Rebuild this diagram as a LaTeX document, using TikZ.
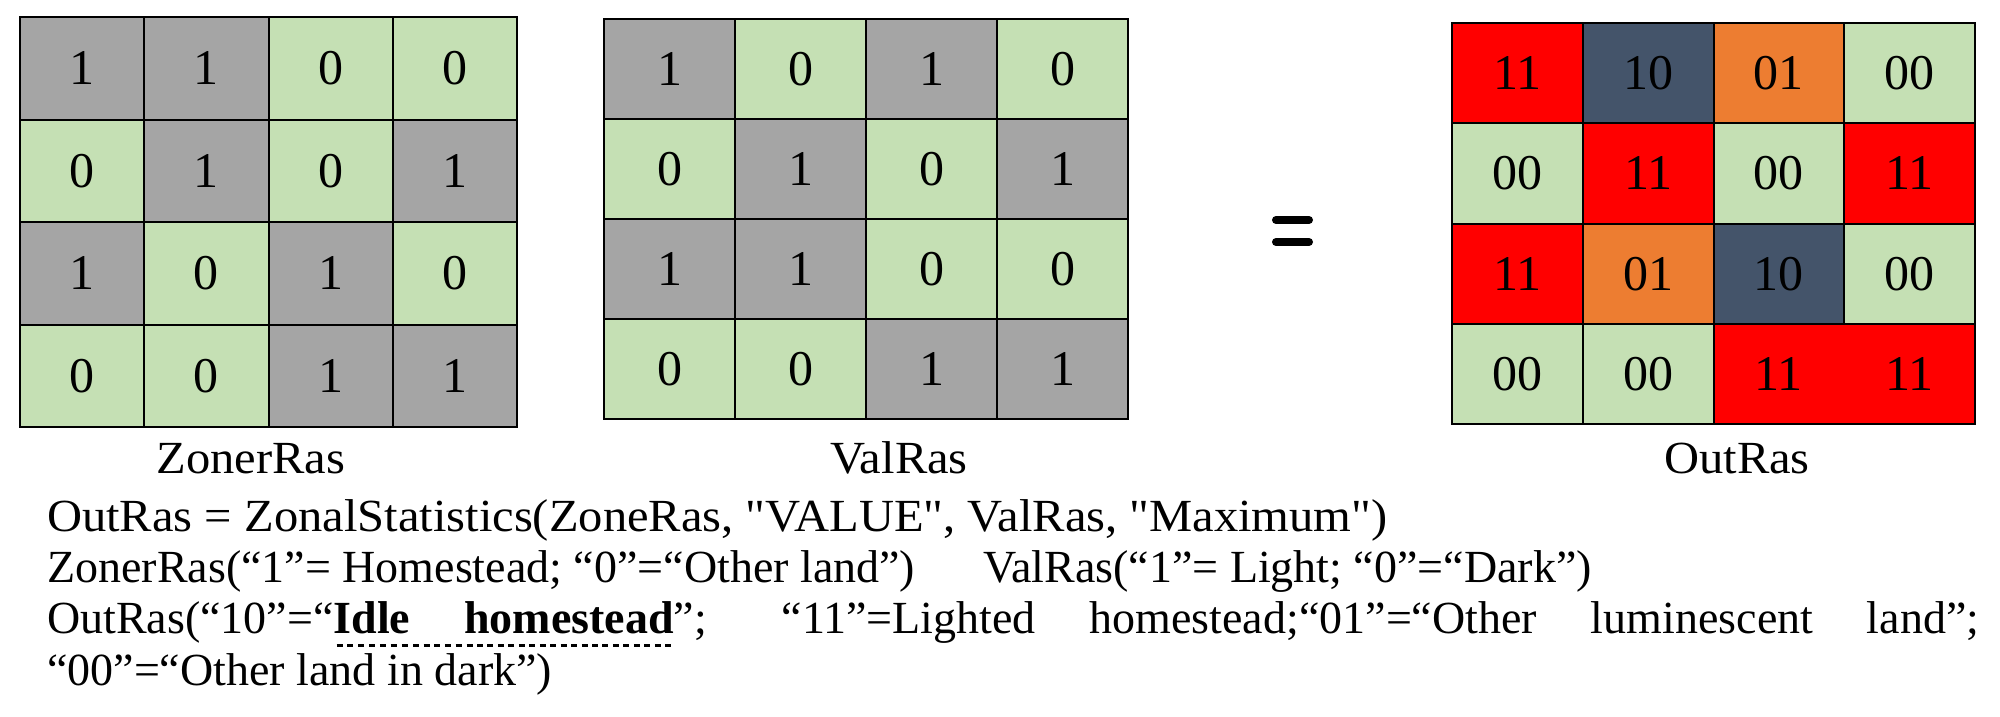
\documentclass[tikz,border=0pt]{standalone}
\usepackage{fontspec}
\setmainfont{Liberation Serif}[Ligatures=TeXOff]
\newfontfamily\widefont{Liberation Serif}[Ligatures=TeXOff, FakeStretch=1.055]
\definecolor{cgray}{HTML}{A5A5A5}
\definecolor{cgreen}{HTML}{C5E0B4}
\definecolor{cred}{HTML}{FF0000}
\definecolor{cblue}{HTML}{44546A}
\definecolor{corange}{HTML}{ED7D31}
\colorlet{v1}{cgray}
\colorlet{v0}{cgreen}
\colorlet{c11}{cred}
\colorlet{c10}{cblue}
\colorlet{c01}{corange}
\colorlet{c00}{cgreen}
\newcommand{\dotrule}{\xleaders\hbox to 10pt{\hss\vrule height -11pt depth 14pt width 6pt\hss}}
\newcommand{\dotword}[1]{\setbox0\hbox{\textbf{#1}}\rlap{\dotrule\hskip\wd0}\box0}
\newcommand{\dotspace}{\dotrule\hskip\fontdimen2\font plus\fontdimen3\font minus\fontdimen4\font}
\tikzset{
  cellbase/.style={inner sep=0pt, outer sep=0pt, font=\fontsize{50}{55}\selectfont},
  gacell/.style={cellbase, minimum width=124.25pt, minimum height=102.5pt},
  gbcell/.style={cellbase, minimum width=131pt, minimum height=100pt},
  gccell/.style={cellbase, minimum width=130.75pt, minimum height=100.25pt},
  border/.style={draw=black, line width=2pt},
  lbl/.style={inner sep=0pt, anchor=base, font=\widefont\fontsize{46}{51}\selectfont},
  txt/.style={inner sep=0pt, anchor=base west, font=\fontsize{46}{51}\selectfont},
  eqbar/.style={line width=8pt, line cap=round},
}
\begin{document}
\begin{tikzpicture}[x=1pt, y=-1pt]
\useasboundingbox (0,0) rectangle (2000,716);
\fill[white] (0,0) rectangle (2000,716);
% grid 1 : ZonerRas
\foreach \row [count=\r] in {{1,1,0,0},{0,1,0,1},{1,0,1,0},{0,0,1,1}} {
  \foreach \v [count=\c] in \row {
    \node[gacell, fill=v\v] (a\r\c) at ({20+(\c-0.5)*124.25},{17+(\r-0.5)*102.5}) {\v};
  }
}
% grid 2 : ValRas
\foreach \row [count=\r] in {{1,0,1,0},{0,1,0,1},{1,1,0,0},{0,0,1,1}} {
  \foreach \v [count=\c] in \row {
    \node[gbcell, fill=v\v] (b\r\c) at ({604+(\c-0.5)*131},{19+(\r-0.5)*100}) {\v};
  }
}
% grid 3 : OutRas
\foreach \row [count=\r] in {{11,10,01,00},{00,11,00,11},{11,01,10,00},{00,00,11,11}} {
  \foreach \v [count=\c] in \row {
    \node[gccell, fill=c\v] (o\r\c) at ({1452+(\c-0.5)*130.75},{23+(\r-0.5)*100.25}) {\v};
  }
}
% borders
\foreach \r in {1,...,4} {
  \foreach \c in {1,...,4} {
    \draw[border] (a\r\c.north west) rectangle (a\r\c.south east);
    \draw[border] (b\r\c.north west) rectangle (b\r\c.south east);
    \ifnum\r\c<43 \draw[border] (o\r\c.north west) rectangle (o\r\c.south east);\fi
  }
}
\draw[border] (o11.north west) rectangle (o44.south east);
% equals sign
\coordinate (eq1a) at (1276,220);
\coordinate (eq1b) at (1309,220);
\coordinate (eq2a) at (1276,242);
\coordinate (eq2b) at (1309,242);
\draw[eqbar] (eq1a) -- (eq1b);
\draw[eqbar] (eq2a) -- (eq2b);
% labels
\node[lbl] (lz) at (251,473) {ZonerRas};
\node[lbl] (lv) at (899,473) {ValRas};
\node[lbl] (lo) at (1737,473) {OutRas};
% text lines
\node[txt, font=\widefont\fontsize{46}{51}\selectfont] (t1) at (47,531) {OutRas = ZonalStatistics(ZoneRas, "VALUE", ValRas, "Maximum")};
\node[txt] (t2a) at (47,582) {ZonerRas(“1”= Homestead; “0”=“Other land”)};
\node[txt, anchor=base east] (t2b) at (1592,582) {ValRas(“1”= Light; “0”=“Dark”)};
\node[txt] (t3) at (47,633) {\makebox[1932pt][s]{OutRas(“10”=“\dotword{Idle}\dotspace\dotword{homestead}”; “11”=Lighted homestead;“01”=“Other luminescent land”;}};
\node[txt] (t4) at (47,685) {“00”=“Other land in dark”)};
\end{tikzpicture}
\end{document}
